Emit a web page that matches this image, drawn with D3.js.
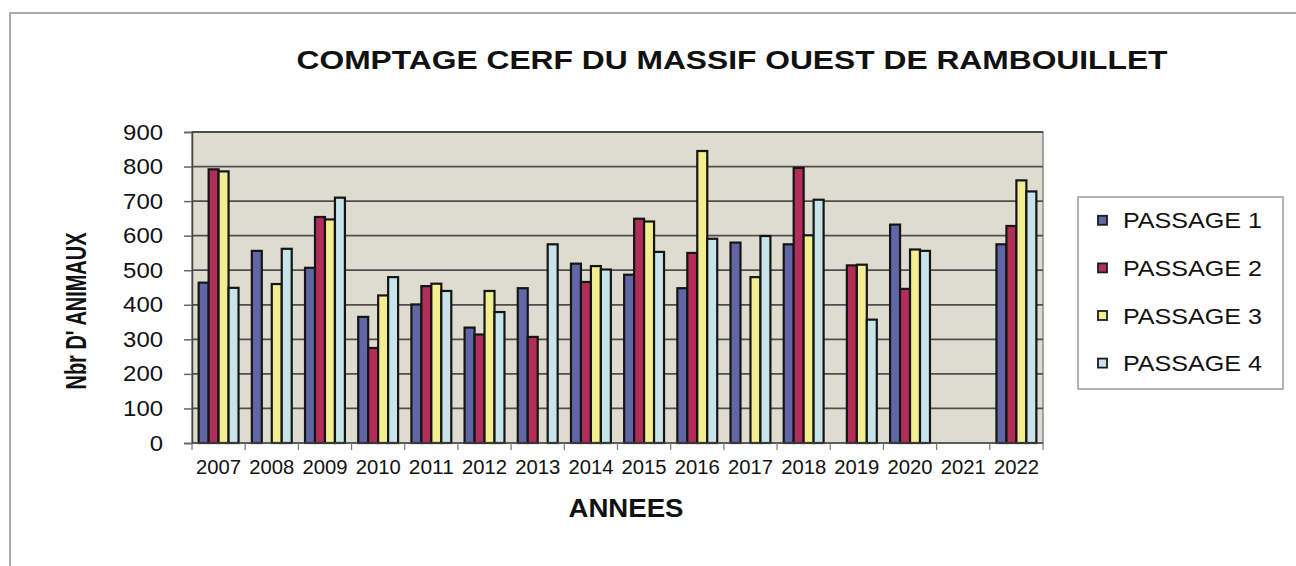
<!DOCTYPE html>
<html>
<head>
<meta charset="utf-8">
<script src="https://cdn.jsdelivr.net/npm/d3@7"></script>
<style>
  body { margin: 0; background: #fff; }
  svg { display: block; font-family: "Liberation Sans", Arial, sans-serif; }
</style>
</head>
<body>
<svg id="chart" width="1296" height="566"></svg>
<script>
let years = ['2007', '2008', '2009', '2010', '2011', '2012', '2013', '2014',
    '2015', '2016', '2017', '2018', '2019', '2020', '2021', '2022'];
let seriesNames = ['PASSAGE 1', 'PASSAGE 2', 'PASSAGE 3', 'PASSAGE 4'];

// null = pas de comptage
let passage1 = [464, 556, 507, 365, 401, 334, 448, 519, 487, 448, 580, 575, null, 632, null, 575];
let passage2 = [792, null, 654, 275, 454, 314, 307, 466, 649, 550, null, 796, 514, 446, null, 628];
let passage3 = [786, 460, 647, 427, 461, 440, null, 512, 641, 845, 480, 601, 516, 560, null, 760];
let passage4 = [449, 562, 710, 480, 440, 379, 575, 502, 553, 591, 599, 704, 357, 556, null, 728];

let yTicks = [0, 100, 200, 300, 400, 500, 600, 700, 800, 900];
let colors = ['#6166a6', '#b22d58', '#f3ef90', '#c6e4ea'];

let allSeries = [passage1, passage2, passage3, passage4];

let plotLeft = 192, plotRight = 1043, plotTop = 132, plotBottom = 443;

let svg = d3.select('#chart');

// cadre gris
svg.append('path')
    .attr('d', 'M10,566 L10,13 L1296,13')
    .attr('fill', 'none')
    .attr('stroke', '#ababab')
    .attr('stroke-width', 2);

let xScale = d3.scaleBand()
    .domain(years)
    .range([plotLeft, plotRight])
    .paddingInner(0.25)
    .paddingOuter(0.125);

let xSub = d3.scaleBand()
    .domain(seriesNames)
    .range([0, xScale.bandwidth()]);

let yScale = d3.scaleLinear()
    .domain([0, 900])
    .range([plotBottom, plotTop]);

// fond
svg.append('rect')
    .attr('x', plotLeft)
    .attr('y', plotTop)
    .attr('width', plotRight - plotLeft)
    .attr('height', plotBottom - plotTop)
    .attr('fill', '#dedcce')
    .attr('stroke', '#8a8a8a')
    .attr('stroke-width', 1.5);

// grille
svg.append('g')
    .selectAll('line')
    .data(yTicks.filter(d => d > 0))
    .enter()
    .append('line')
    .attr('x1', plotLeft)
    .attr('x2', plotRight)
    .attr('y1', d => yScale(d))
    .attr('y2', d => yScale(d))
    .attr('stroke', '#4e4e4e')
    .attr('stroke-width', 1.8);

// barres
let bars = [];
years.forEach((yr, i) => {
    allSeries.forEach((s, j) => {
        if (s[i] != null) bars.push({ year: yr, name: seriesNames[j], value: s[i], k: j });
    });
});

svg.append('g')
    .selectAll('rect')
    .data(bars)
    .enter()
    .append('rect')
    .attr('x', d => xScale(d.year) + xSub(d.name))
    .attr('y', d => yScale(d.value))
    .attr('width', xSub.bandwidth())
    .attr('height', d => yScale(0) - yScale(d.value))
    .attr('fill', d => colors[d.k])
    .attr('stroke', '#151515')
    .attr('stroke-width', 2.2);

// axe Y
let yAxis = svg.append('g')
    .attr('transform', `translate(${plotLeft},0)`)
    .call(d3.axisLeft(yScale).tickValues(yTicks).tickSize(8).tickPadding(21));
yAxis.select('.domain').attr('stroke', '#444').attr('stroke-width', 1.5);
yAxis.selectAll('.tick line').attr('stroke', '#666').attr('stroke-width', 1.5);
yAxis.selectAll('.tick text')
    .attr('font-size', 22)
    .attr('fill', '#111')
    .attr('font-family', '"Liberation Sans", Arial, sans-serif')
    .attr('textLength', function(d) { return String(d).length * 13.3; })
    .attr('lengthAdjust', 'spacingAndGlyphs');

// axe X (repères entre les années)
let xAxis = svg.append('g')
    .attr('transform', `translate(0,${plotBottom})`);
xAxis.append('line')
    .attr('x1', plotLeft).attr('x2', plotRight)
    .attr('stroke', '#444').attr('stroke-width', 1.5);
xAxis.selectAll('.sep')
    .data(d3.range(years.length + 1))
    .enter()
    .append('line')
    .attr('x1', i => plotLeft + i * (plotRight - plotLeft) / years.length)
    .attr('x2', i => plotLeft + i * (plotRight - plotLeft) / years.length)
    .attr('y1', 0).attr('y2', 7)
    .attr('stroke', '#777').attr('stroke-width', 1.2);
xAxis.selectAll('text')
    .data(years)
    .enter()
    .append('text')
    .attr('x', d => xScale(d) + xScale.bandwidth() / 2)
    .attr('y', 31)
    .attr('text-anchor', 'middle')
    .attr('font-size', 20)
    .attr('fill', '#111')
    .attr('textLength', 45)
    .attr('lengthAdjust', 'spacingAndGlyphs')
    .text(d => d);

// titres
svg.append('text')
    .attr('x', 732)
    .attr('y', 69)
    .attr('text-anchor', 'middle')
    .attr('font-size', 26)
    .attr('font-weight', 'bold')
    .attr('fill', '#111')
    .attr('textLength', 871)
    .attr('lengthAdjust', 'spacingAndGlyphs')
    .text('COMPTAGE CERF DU MASSIF OUEST DE RAMBOUILLET');

svg.append('text')
    .attr('x', 626)
    .attr('y', 517)
    .attr('text-anchor', 'middle')
    .attr('font-size', 25)
    .attr('font-weight', 'bold')
    .attr('fill', '#111')
    .attr('textLength', 115)
    .attr('lengthAdjust', 'spacingAndGlyphs')
    .text('ANNEES');

svg.append('text')
    .attr('transform', 'translate(86,311) rotate(-90) scale(1,1.45)')
    .attr('x', 0)
    .attr('y', 0)
    .attr('text-anchor', 'middle')
    .attr('font-size', 20)
    .attr('font-weight', 'bold')
    .attr('fill', '#111')
    .attr('textLength', 157)
    .attr('lengthAdjust', 'spacingAndGlyphs')
    .text("Nbr D' ANIMAUX");

// légende
let legend = svg.append('g');
legend.append('rect')
    .attr('x', 1078)
    .attr('y', 197)
    .attr('width', 205)
    .attr('height', 192)
    .attr('fill', '#fff')
    .attr('stroke', '#9a9a9a')
    .attr('stroke-width', 1.5);

let legendRows = legend.selectAll('.row')
    .data(seriesNames)
    .enter()
    .append('g')
    .attr('transform', (d, i) => `translate(0,${228.3 + i * 47.6})`);

legendRows.append('rect')
    .attr('x', 1098)
    .attr('y', -12.5)
    .attr('width', 9)
    .attr('height', 9)
    .attr('fill', (d, i) => colors[i])
    .attr('stroke', '#1c1c1c')
    .attr('stroke-width', 1.8);

legendRows.append('text')
    .attr('x', 1123)
    .attr('y', 0)
    .attr('font-size', 22)
    .attr('fill', '#111')
    .attr('textLength', 139)
    .attr('lengthAdjust', 'spacingAndGlyphs')
    .text(d => d);
</script>
</body>
</html>
